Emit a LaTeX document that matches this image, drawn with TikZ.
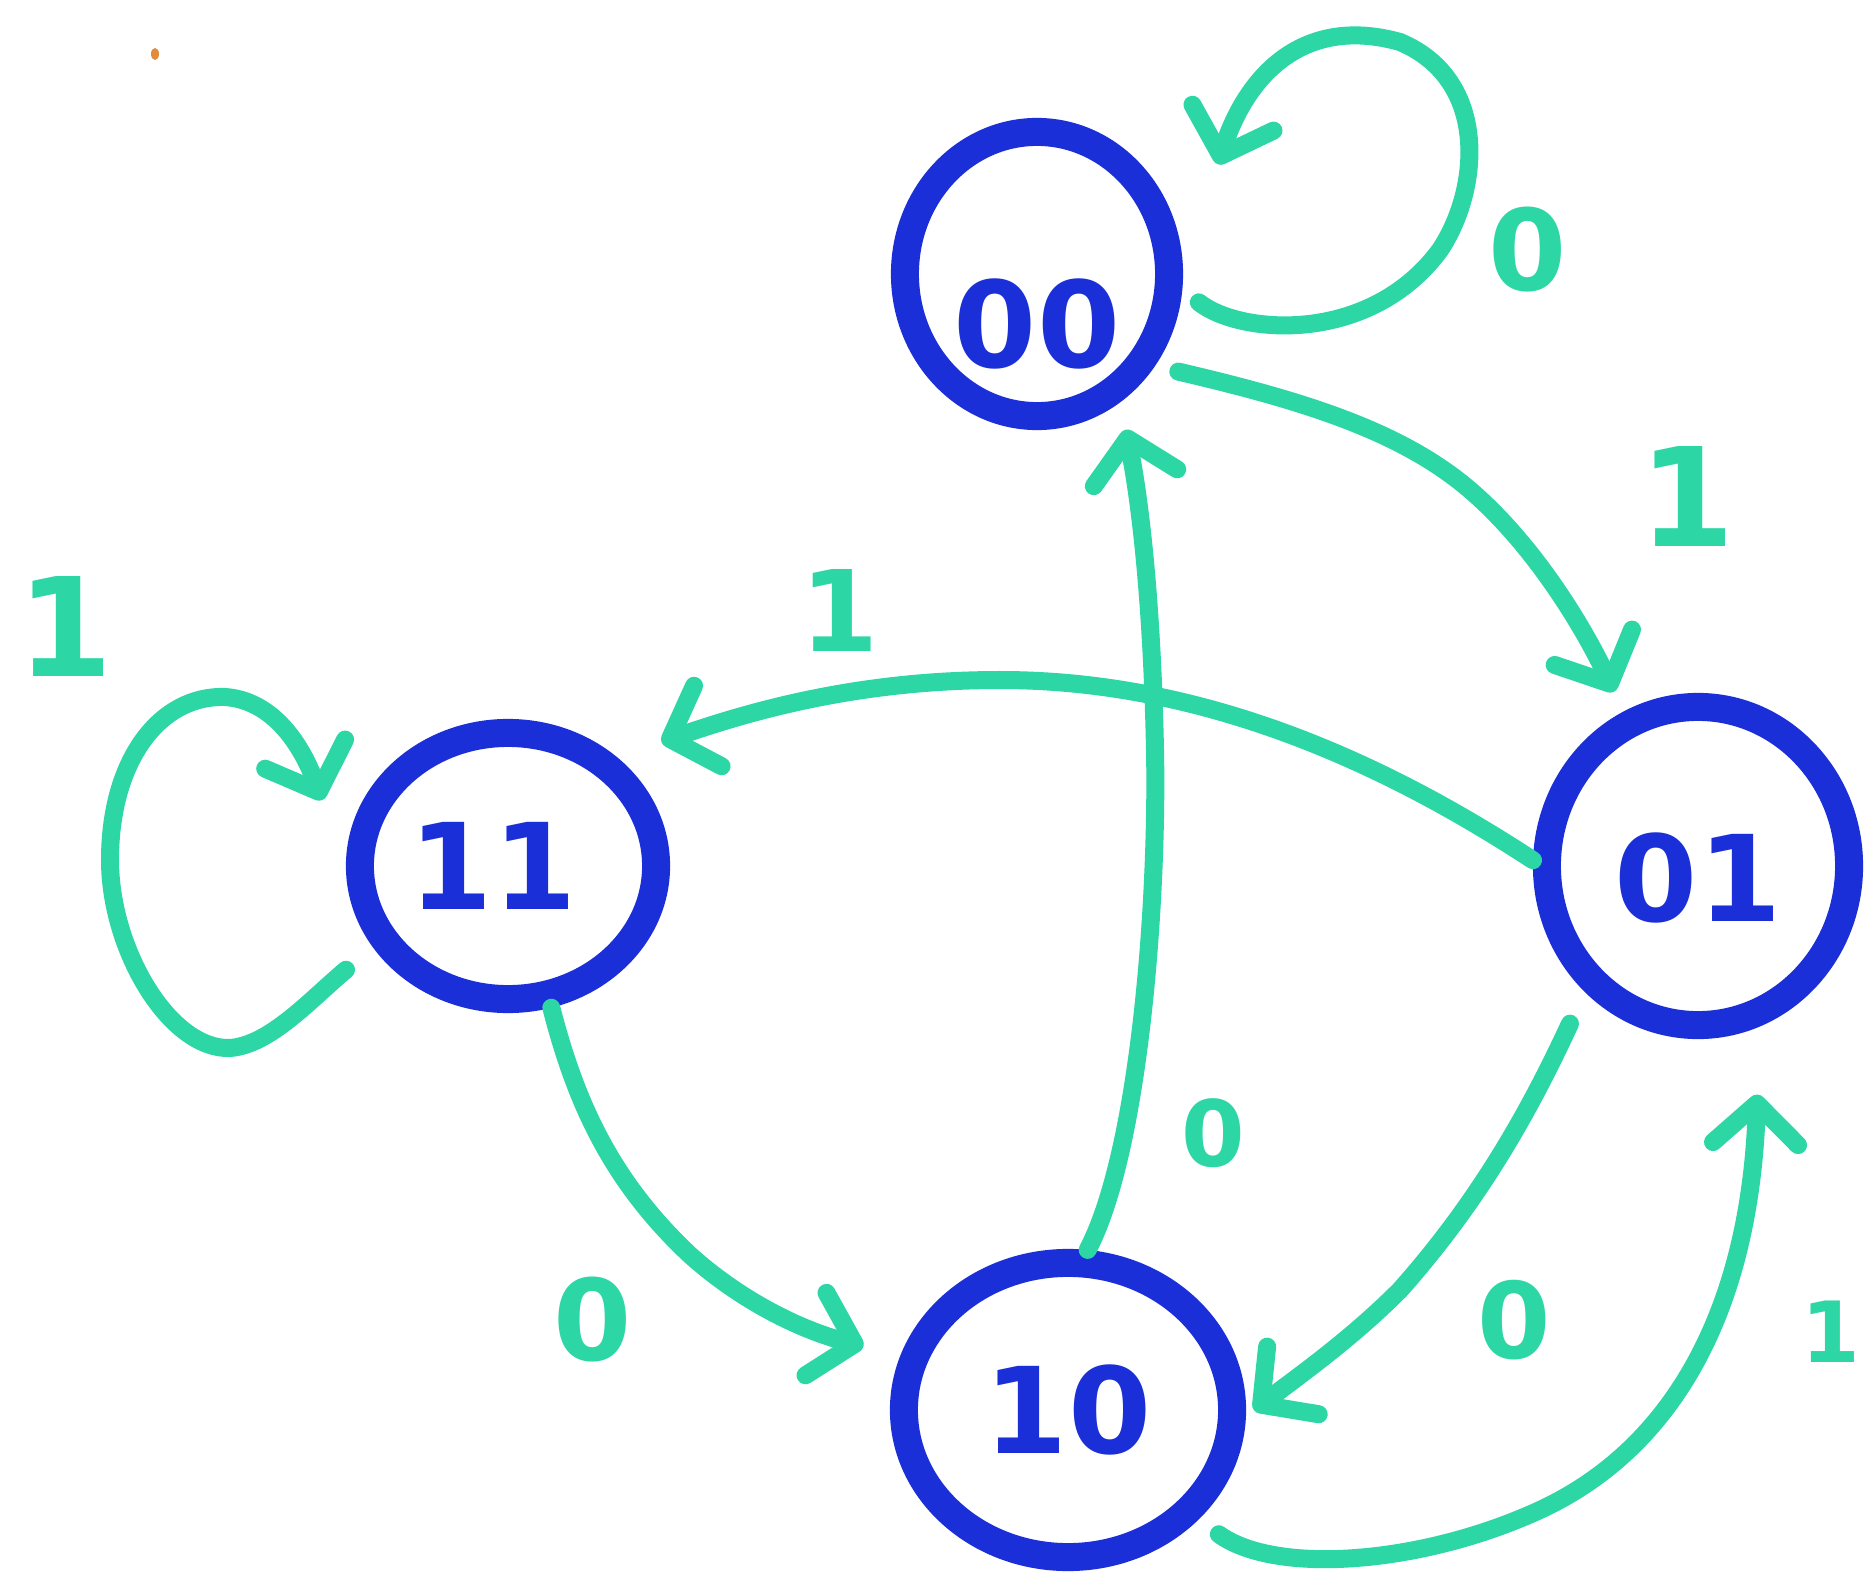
\documentclass[tikz,border=0pt]{standalone}
\usepackage{fontspec}
\setmainfont{DejaVu Sans}
\usetikzlibrary{arrows.meta,shapes.geometric}
\definecolor{nodeblue}{RGB}{27,47,216}
\definecolor{edgeteal}{RGB}{45,215,165}
\definecolor{speck}{RGB}{225,140,60}
\tikzset{
  statenode/.style={ellipse, draw=nodeblue, line width=0.28cm, inner sep=0pt},
  nodetext/.style={text=nodeblue, font=\bfseries\fontsize{34}{34}\selectfont, inner sep=0pt},
  edge/.style={draw=edgeteal, line width=0.18cm, line cap=round,
    -{Straight Barb[length=4mm,width=8.5mm,round]}},
  lbl/.style={text=edgeteal, font=\bfseries\fontsize{#1}{#1}\selectfont, inner sep=0pt},
}
\begin{document}
\begin{tikzpicture}[x=0.01cm,y=-0.01cm]
\fill[white] (0,0) rectangle (1869,1579);
\useasboundingbox (0,0) rectangle (1869,1579);

% states
\node[statenode, minimum width=2.64cm, minimum height=2.84cm,
  label={[nodetext,yshift=-0.5cm]center:00}] (s00) at (1037,274) {};
\node[statenode, minimum width=2.96cm, minimum height=2.66cm,
  label={[nodetext,xshift=-0.15cm]center:11}] (s11) at (508,866) {};
\node[statenode, minimum width=3.02cm, minimum height=3.18cm,
  label={[nodetext,yshift=-0.12cm]center:01}] (s01) at (1698,866) {};
\node[statenode, minimum width=3.28cm, minimum height=2.94cm,
  label={[nodetext]center:10}] (s10) at (1068,1410) {};

% transitions
\draw[edge, shorten <=0.21cm, shorten >=1.15cm] (s00.-6)
  .. controls (1240,335) and (1370,345) .. (1440,250)
  .. controls (1480,190) and (1490,80) .. (1400,42)
  .. controls (1300,14) and (1245,80) .. (s00.east);
\draw[edge, shorten <=0.24cm, shorten >=0.22cm] (s00.-38)
  .. controls (1300,400) and (1400,430) .. (1470,490)
  .. controls (1540,550) and (1590,640) .. (s01.116);
\draw[edge, shorten >=0.47cm] (s01.178)
  .. controls (1380,760) and (1200,680) .. (1000,680)
  .. controls (850,680) and (740,715) .. (s11.45);
\draw[edge, shorten >=0.28cm] (s10.83)
  .. controls (1140,1150) and (1158,900) .. (1155,750)
  .. controls (1152,600) and (1140,500) .. (s00.-57);
\draw[edge, shorten >=0.38cm] (s11.-73)
  .. controls (575,1100) and (610,1180) .. (690,1255)
  .. controls (740,1300) and (800,1330) .. (s10.162);
\draw[edge, shorten <=0.35cm, shorten >=0.1cm] (s01.-132)
  .. controls (1530,1110) and (1480,1200) .. (1400,1290)
  .. controls (1350,1340) and (1300,1375) .. (s10.-2);
\draw[edge, shorten <=0.25cm, shorten >=0.68cm] (s10.-40)
  .. controls (1275,1575) and (1420,1565) .. (1540,1510)
  .. controls (1680,1445) and (1750,1300) .. (s01.-69);
\draw[edge, shorten <=0.35cm, shorten >=0.7cm] (s11.-149)
  .. controls (310,1000) and (270,1045) .. (230,1048)
  .. controls (170,1050) and (110,950) .. (110,860)
  .. controls (110,760) and (160,695) .. (225,697)
  .. controls (270,700) and (300,740) .. (s11.180);

% labels
\node[lbl=39] (a1) at (1687,497) {1};
\node[lbl=32] (b0) at (1528,250) {0};
\node[lbl=32] (c1) at (840,610) {1};
\node[lbl=39] (d1) at (65,627) {1};
\node[lbl=26] (e0) at (1213,1133) {0};
\node[lbl=32] (f0) at (593,1320) {0};
\node[lbl=30] (g0) at (1514,1320) {0};
\node[lbl=24] (h1) at (1831,1332) {1};

% small speck
\fill[speck] (155,54) ellipse [x radius=0.04cm, y radius=0.06cm];
\end{tikzpicture}
\end{document}
